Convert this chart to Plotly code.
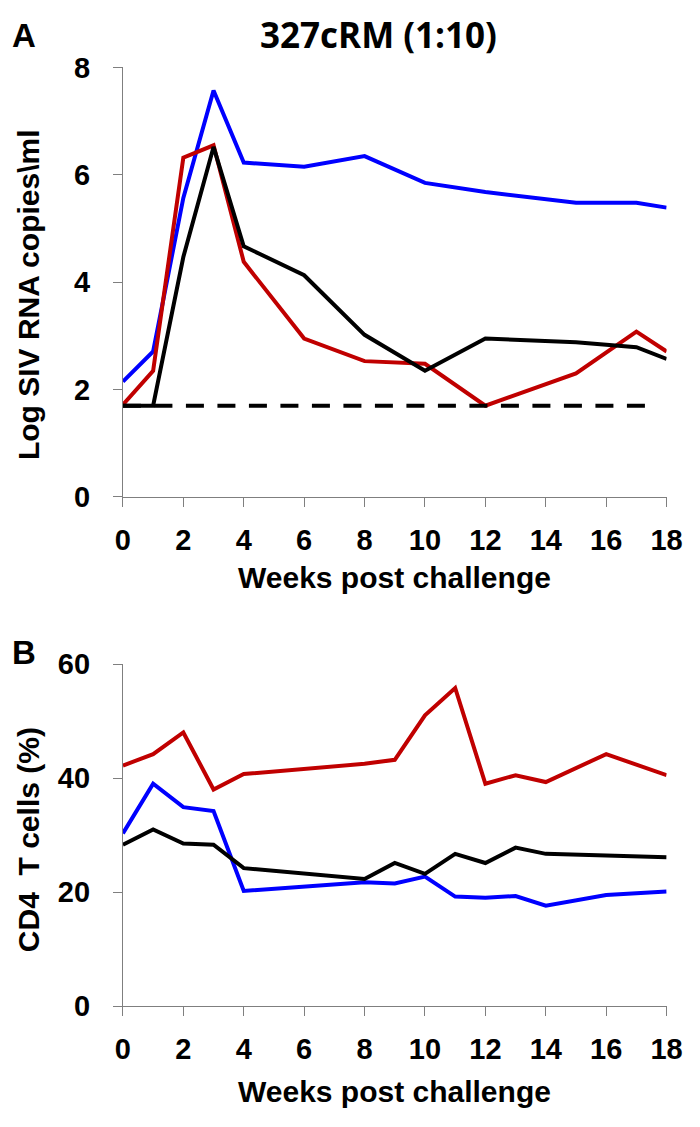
import plotly.graph_objects as go

W, H = 700, 1127

# ---------------- data ----------------
weeks_a = [0, 1, 2, 3, 4, 6, 8, 10, 12, 15, 17, 18]
vl_blue = [2.15, 2.71, 5.57, 7.57, 6.23, 6.15, 6.35, 5.85, 5.68, 5.48, 5.48, 5.39]
vl_red = [1.72, 2.35, 6.32, 6.55, 4.38, 2.95, 2.53, 2.48, 1.70, 2.30, 3.08, 2.71]
vl_black = [1.70, 1.70, 4.47, 6.52, 4.67, 4.13, 3.02, 2.35, 2.95, 2.88, 2.79, 2.57]
limit_x = [0, 17.5]
limit_y = [1.7, 1.7]

weeks_b_blue = [0, 1, 2, 3, 4, 8, 9, 10, 11, 12, 13, 14, 16, 18]
cd4_blue = [30.3, 39.0, 34.9, 34.2, 20.2, 21.7, 21.5, 22.7, 19.2, 19.0, 19.3, 17.6, 19.5, 20.1]
weeks_b_black = [0, 1, 2, 3, 4, 8, 9, 10, 11, 12, 13, 14, 18]
cd4_black = [28.3, 31.0, 28.5, 28.3, 24.2, 22.3, 25.1, 23.2, 26.7, 25.1, 27.8, 26.7, 26.1]
weeks_b_red = [0, 1, 2, 3, 4, 8, 9, 10, 11, 12, 13, 14, 16, 18]
cd4_red = [42.2, 44.2, 48.0, 38.0, 40.7, 42.5, 43.2, 51.0, 55.8, 39.0, 40.5, 39.3, 44.2, 40.5]

x_ticks = list(range(0, 19, 2))
ya_ticks = [0, 2, 4, 6, 8]
yb_ticks = [0, 20, 40, 60]

RED = "#C00000"
BLUE = "#0000FF"
BLACK = "#000000"
AXC = "#7f7f7f"
LW = 4

FONT = "Liberation Sans, Arial, sans-serif"
FONT_T = "Liberation Sans, Arial, sans-serif"


def px_x(p):
    return p / W


def px_y(p):
    return 1 - p / H


fig = go.Figure()

# panel A
for xs, ys, c in [(weeks_a, vl_blue, BLUE), (weeks_a, vl_red, RED), (weeks_a, vl_black, BLACK)]:
    fig.add_trace(go.Scatter(x=xs, y=ys, mode="lines", line=dict(color=c, width=LW),
                             xaxis="x", yaxis="y", showlegend=False))
fig.add_trace(go.Scatter(x=limit_x, y=limit_y, mode="lines",
                         line=dict(color=BLACK, width=4, dash="18px,13.5px"),
                         xaxis="x", yaxis="y", showlegend=False))

# panel B
for xs, ys, c in [(weeks_b_red, cd4_red, RED), (weeks_b_blue, cd4_blue, BLUE), (weeks_b_black, cd4_black, BLACK)]:
    fig.add_trace(go.Scatter(x=xs, y=ys, mode="lines", line=dict(color=c, width=LW),
                             xaxis="x2", yaxis="y2", showlegend=False))

tickfont = dict(family=FONT, size=29, color="black", weight="bold")
common_x = dict(range=[0, 18], tickvals=x_ticks, ticks="outside", ticklen=9, tickwidth=1,
                tickcolor=AXC, showline=True, linecolor=AXC, linewidth=1, showgrid=False,
                zeroline=False, tickfont=tickfont, ticklabelstandoff=8, fixedrange=True)
common_y = dict(ticks="outside", ticklen=9, tickwidth=1, tickcolor=AXC, showline=True,
                linecolor=AXC, linewidth=1, showgrid=False, zeroline=False, tickfont=tickfont,
                ticklabelstandoff=17, fixedrange=True)

xdom = [px_x(119), px_x(682)]
fig.update_layout(
    width=W, height=H, margin=dict(l=0, r=0, t=0, b=0),
    paper_bgcolor="white", plot_bgcolor="white", hovermode=False,
    xaxis=dict(domain=xdom, anchor="y", **common_x),
    yaxis=dict(domain=[px_y(495), px_y(53)], range=[0, 8], tickvals=ya_ticks, anchor="x", **common_y),
    xaxis2=dict(domain=xdom, anchor="y2", **common_x),
    yaxis2=dict(domain=[px_y(1019), px_y(667)], range=[0, 60], tickvals=yb_ticks, anchor="x2", **common_y),
)

tfont = dict(family=FONT_T, size=30, color="black", weight="bold")
ann = [
    dict(text="A", x=px_x(2), y=px_y(20), xanchor="left", yanchor="middle",
         font=dict(family=FONT_T, size=33, color="black", weight="bold")),
    dict(text="B", x=px_x(2), y=px_y(655), xanchor="left", yanchor="middle",
         font=dict(family=FONT_T, size=33, color="black", weight="bold")),
    dict(text="327cRM (1:10)", x=px_x(384), y=px_y(19), xanchor="center", yanchor="middle",
         font=dict(family="Open Sans, Lato, sans-serif", size=35, color="black", weight="bold")),
    dict(text="Log SIV RNA copies\\ml", x=px_x(22), y=px_y(287), xanchor="center", yanchor="middle",
         textangle=-90, font=tfont),
    dict(text="CD4  T cells (%)", x=px_x(22), y=px_y(848), xanchor="center", yanchor="middle",
         textangle=-90, font=tfont),
    dict(text="Weeks post challenge", x=px_x(400), y=px_y(578), xanchor="center", yanchor="middle",
         font=tfont),
    dict(text="Weeks post challenge", x=px_x(400), y=px_y(1107), xanchor="center", yanchor="middle",
         font=tfont),
]
for a in ann:
    a.update(xref="paper", yref="paper", showarrow=False)
    fig.add_annotation(**a)

fig.write_html("out.html", config={"displayModeBar": False, "staticPlot": True},
               post_script="document.body.style.margin='0px';document.body.style.overflow='hidden';")
